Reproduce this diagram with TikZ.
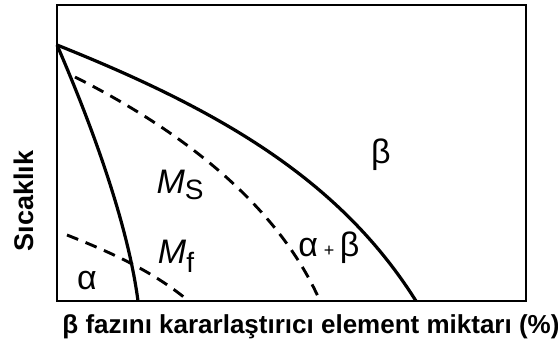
\documentclass[tikz,border=0pt]{standalone}
\usepackage{fontspec}
\setmainfont{Liberation Sans}
\usepackage{tikz}
\usetikzlibrary{calc}

\begin{document}
\begin{tikzpicture}[x=1pt,y=-1pt,
  frame/.style={line width=2.4pt,black},
  solidcurve/.style={line width=3.2pt,black},
  dashcurve/.style={line width=2.9pt,black,dash pattern=on 12pt off 8pt},
  phase/.style={font=\fontsize{34}{38}\selectfont,inner sep=0pt}]
\useasboundingbox (0,0) rectangle (558,349);
\draw[frame] (57,5) rectangle (526,301);
% beta transus and martensite lines
\coordinate (apex) at (57,45);
\draw[solidcurve] (apex) .. controls (220,110) and (340,180) .. (416,301);
\draw[dashcurve] (75,77) .. controls (190,135) and (280,210) .. (320,301);
\draw[solidcurve] (apex) .. controls (93,128) and (128,225) .. (138,301);
\draw[dashcurve] (67,235) .. controls (110,252) and (150,270) .. (185,298);
% phase labels
\node[phase] (beta) at (381,155) {β};
\node[phase] (ms) at (180,185) {\textit{M}\raisebox{-6pt}{\fontsize{28}{30}\selectfont S}};
\node[phase] (mf) at (176,256) {\textit{M}\raisebox{-9pt}{\fontsize{28}{30}\selectfont f}};
\node[phase] (ab) at (329,248) {α\,{\fontsize{18}{20}\selectfont+}\,β};
\node[phase] (alpha) at (87,281) {α};
\node[font=\bfseries\fontsize{27}{30}\selectfont,rotate=90] (ylab) at (24,201) {Sıcaklık};
\node[font=\bfseries\fontsize{26}{30}\selectfont] (xlab) at (311,327) {β fazını kararlaştırıcı element miktarı (\%)};
\end{tikzpicture}
\end{document}
